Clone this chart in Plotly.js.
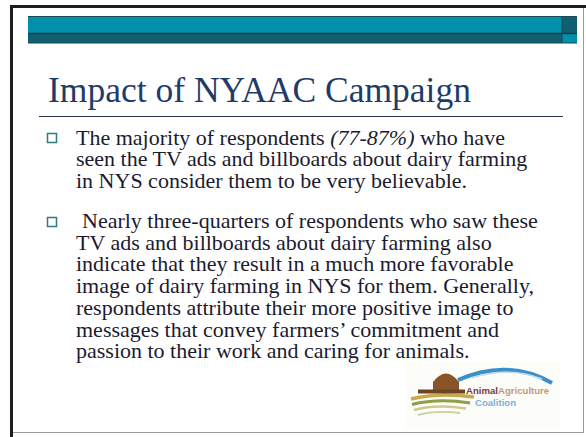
<!DOCTYPE html>
<html>
<head>
<meta charset="utf-8">
<script src="https://cdn.plot.ly/plotly-3.0.1.min.js"></script>
<style>
  html, body { margin: 0; padding: 0; background: #ffffff; }
  #chart { width: 586px; height: 437px; }
</style>
</head>
<body>
<div id="chart"></div>
<script>
// ---- slide content ----
const slideTitle = "Impact of NYAAC Campaign";
const bullet1Lines = [
  "The majority of respondents <i>(77-87%)</i> who have",
  "seen the TV ads and billboards about dairy farming",
  "in NYS consider them to be very believable."
];
const bullet2Lines = [
  "Nearly three-quarters of respondents who saw these",
  "TV ads and billboards about dairy farming also",
  "indicate that they result in a much more favorable",
  "image of dairy farming in NYS for them. Generally,",
  "respondents attribute their more positive image to",
  "messages that convey farmers\u2019 commitment and",
  "passion to their work and caring for animals."
];
const logoWord1 = ["Animal", "Agriculture"];
const logoWord2 = "Coalition";

// ---- layout helpers (pixel coordinates via hidden axes) ----
const W = 586, H = 437;
const serif = "'Liberation Serif'";
const sans = "'Liberation Sans'";
const bodyFs = 22, titleFs = 35.5;
const textColor = "#1b1b2f";
const titleColor = "#1f3c68";

function lineAnn(text, x, baseline, fs, color) {
  return {
    x: x, y: baseline - 0.3375 * fs, xref: "x", yref: "y",
    text: text, showarrow: false, xanchor: "left", yanchor: "middle",
    align: "left",
    font: {family: serif, size: fs, color: color}
  };
}

const annotations = [];
annotations.push(lineAnn(slideTitle, 46, 102, titleFs, titleColor));

const b1Gap = 21.8;
const b1Base = 144.5;
bullet1Lines.forEach((t, i) => {
  annotations.push(lineAnn(t, 74, b1Base + i * b1Gap, bodyFs, textColor));
});
const b2Gap = 21.7;
const b2Base = 228;
bullet2Lines.forEach((t, i) => {
  annotations.push(lineAnn(t, i === 0 ? 80 : 74, b2Base + i * b2Gap, bodyFs, textColor));
});

// logo words
annotations.push({
  x: 464, y: 390.5, xref: "x", yref: "y",
  text: "<b><span style='color:#7a3a44'>" + logoWord1[0] + "</span><span style='color:#c39a78'>" + logoWord1[1] + "</span></b>",
  showarrow: false, xanchor: "left", yanchor: "middle",
  font: {family: sans, size: 9.6, color: "#7a3a44"}
});
annotations.push({
  x: 473, y: 402.5, xref: "x", yref: "y", text: "<b>" + logoWord2 + "</b>",
  showarrow: false, xanchor: "left", yanchor: "middle",
  font: {family: sans, size: 9.6, color: "#7eaedb"}
});

const shapes = [
  // faint logo backdrop
  {type: "rect", xref: "x", yref: "y", x0: 406, x1: 560, y0: 362, y1: 428, fillcolor: "#fcfcf9", line: {width: 0}, layer: "below"},
  // slide frame
  {type: "rect", xref: "x", yref: "y", x0: 10, x1: 13, y0: 5, y1: H, fillcolor: "#1e1e1e", line: {width: 0}},
  {type: "rect", xref: "x", yref: "y", x0: 10, x1: W, y0: 5, y1: 8, fillcolor: "#1e1e1e", line: {width: 0}},
  {type: "line", xref: "x", yref: "y", x0: 583.5, x1: 583.5, y0: 8, y1: 433, line: {color: "#9a9a9a", width: 1}},
  {type: "line", xref: "x", yref: "y", x0: 13, x1: 584, y0: 432.5, y1: 432.5, line: {color: "#9a9a9a", width: 1}},
  // banner
  {type: "rect", xref: "x", yref: "y", x0: 28, x1: 562, y0: 16.5, y1: 33.5, fillcolor: "#0190aa", line: {width: 0}},
  {type: "rect", xref: "x", yref: "y", x0: 28, x1: 562, y0: 33.5, y1: 43, fillcolor: "#0f5f70", line: {width: 0}},
  {type: "rect", xref: "x", yref: "y", x0: 562, x1: 577, y0: 16.5, y1: 33.5, fillcolor: "#0f5f70", line: {width: 0}},
  {type: "rect", xref: "x", yref: "y", x0: 562, x1: 577, y0: 33.5, y1: 43, fillcolor: "#0190aa", line: {width: 0}},
  {type: "line", xref: "x", yref: "y", x0: 28, x1: 577, y0: 33.5, y1: 33.5, line: {color: "#183c4c", width: 1.5}},
  {type: "line", xref: "x", yref: "y", x0: 28, x1: 577, y0: 16.5, y1: 16.5, line: {color: "#1d4858", width: 1}},
  {type: "line", xref: "x", yref: "y", x0: 28, x1: 577, y0: 43, y1: 43, line: {color: "#1d4858", width: 1}},
  {type: "line", xref: "x", yref: "y", x0: 562, x1: 562, y0: 16.5, y1: 43, line: {color: "#1d4858", width: 1}},
  // title rule
  {type: "line", xref: "x", yref: "y", x0: 39, x1: 563, y0: 116.5, y1: 116.5, line: {color: "#2b3858", width: 1.2}},
  // bullet squares
  {type: "rect", xref: "x", yref: "y", x0: 47.5, x1: 56.5, y0: 133.5, y1: 142.5, line: {color: "#2e7c84", width: 1.5}},
  {type: "rect", xref: "x", yref: "y", x0: 47.5, x1: 56.5, y0: 217.5, y1: 226.5, line: {color: "#2e7c84", width: 1.5}},
  // logo: hills
  {type: "path", xref: "x", yref: "y", path: "M 411 399 Q 440 392 474 397", line: {color: "#c9a94a", width: 3.5}},
  {type: "path", xref: "x", yref: "y", path: "M 412 404.5 Q 438 398 470 403", line: {color: "#8f9e4a", width: 3}},
  {type: "path", xref: "x", yref: "y", path: "M 414 410 Q 436 404 466 408.5", line: {color: "#d6c68a", width: 2.5}},
  {type: "path", xref: "x", yref: "y", path: "M 418 415 Q 436 410 460 413", line: {color: "#c8d0a0", width: 2}},
  // logo: barn dome
  {type: "path", xref: "x", yref: "y", path: "M 433 391 L 433 382 Q 446 365 459 382 L 459 391 Z", fillcolor: "#8a5426", line: {width: 0}},
  {type: "rect", xref: "x", yref: "y", x0: 418, x1: 465, y0: 389.5, y1: 393.5, fillcolor: "#6b4428", line: {width: 0}},
  // logo: blue swoosh
  {type: "path", xref: "x", yref: "y", path: "M 458 380 Q 508 358 552 383", line: {color: "#3d8fc9", width: 4}},
  {type: "path", xref: "x", yref: "y", path: "M 472 378 Q 508 366 542 379", line: {color: "#c2dcef", width: 1.5}}
];

const layout = {
  width: W, height: H,
  margin: {l: 0, r: 0, t: 0, b: 0, pad: 0},
  paper_bgcolor: "#ffffff", plot_bgcolor: "#ffffff",
  showlegend: false,
  xaxis: {range: [0, W], visible: false, fixedrange: true},
  yaxis: {range: [H, 0], visible: false, fixedrange: true},
  shapes: shapes,
  annotations: annotations
};

Plotly.newPlot("chart", [{x: [], y: [], type: "scatter", mode: "markers", hoverinfo: "skip"}], layout, {staticPlot: true, displayModeBar: false});
</script>
</body>
</html>
